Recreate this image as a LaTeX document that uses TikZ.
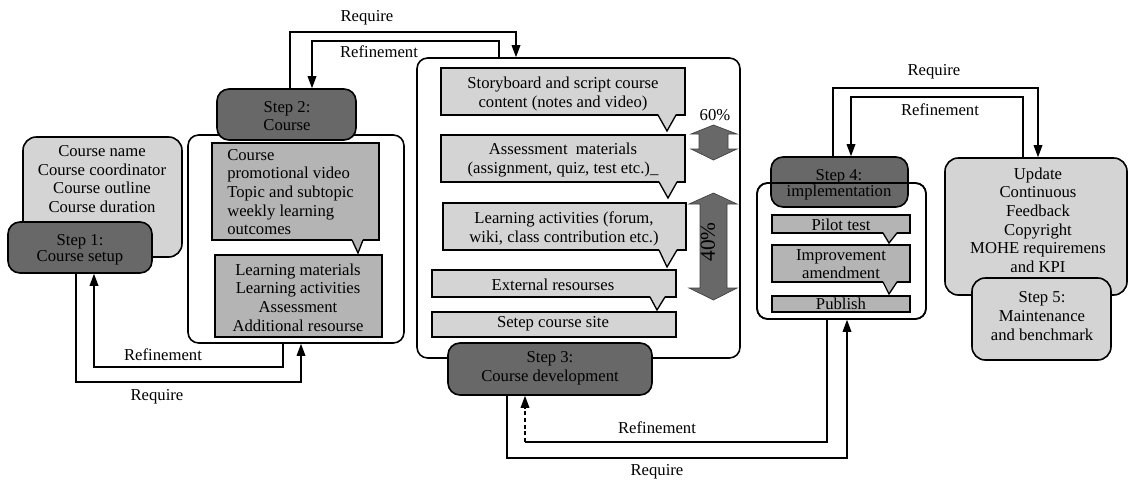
\documentclass[tikz,border=0pt]{standalone}
\usepackage{fontspec}
\setmainfont{Liberation Serif}
\newfontfamily\tnr{Liberation Serif}
\usetikzlibrary{arrows.meta,fit,calc}
\definecolor{dk}{RGB}{104,104,104}
\definecolor{md}{RGB}{180,180,180}
\definecolor{lt}{RGB}{212,212,212}
\begin{document}
\begin{tikzpicture}[x=0.75pt,y=-0.75pt,
  font=\tnr\fontsize{12.5}{14}\selectfont,
  stepbox/.style={draw, fill=dk, rounded corners=9pt, line width=1.2pt, inner sep=0pt},
  infobox/.style={draw, fill=lt, rounded corners=10pt, line width=1.2pt, inner sep=0pt},
  frame/.style={draw, rounded corners=8pt, line width=1.2pt, inner sep=0pt},
  callbox/.style={draw, line width=1pt, inner sep=0pt},
  txt/.style={inner sep=0pt, align=center},
  tight/.style={font=\tnr\fontsize{12.5}{12}\selectfont},
  link/.style={line width=0.9pt},
  arr/.style={line width=0.9pt, -{Triangle[length=9pt,width=6.5pt]}},
  dbl/.style={fill=dk, draw=black!75, line width=0.5pt}]
\useasboundingbox (0,0) rectangle (1129,483);

% ---------- Step 1 ----------
\node[infobox, fit={(23,137) (182,257)}] (s1i) {};
\node[txt] (s1it) at (102,179) {Course name\\Course coordinator\\Course outline\\Course duration};
\node[stepbox, fit={(8,222) (152,273)}] (s1) {};
\node[txt, tight] (s1t) at (80,250) {Step 1:\\Course setup};

% ---------- Step 2 ----------
\node[frame, fill=white, fit={(188,135) (404,343)}] (s2f) {};
\node[stepbox, fit={(217,89) (356,140)}] (s2) {};
\node[txt] (s2t) at (287,116) {Step 2:\\Course};
\node[callbox, fill=md, fit={(212,143) (379,240)}] (c21) {};
\fill[md] (352,239) -- (358,253) -- (363,239) -- cycle;
\draw[line width=1pt] (352,240) -- (358,253) -- (363,240);
\node[inner sep=0pt, align=left, anchor=west] (c21t) at (227,192) {Course\\promotional video\\Topic and subtopic\\weekly learning\\outcomes};
\node[callbox, fill=md, fit={(215,255) (382,337)}] (c22) {};
\node[txt] (c22t) at (298,297.5) {Learning materials\\Learning activities\\Assessment\\Additional resourse};

% ---------- Step 3 ----------
\node[frame, fill=white, fit={(417,58) (740,358)}] (s3f) {};
\node[callbox, fill=lt, fit={(441,68) (685,115)}] (c31) {};
\fill[lt] (658,114) -- (667,131) -- (676,114) -- cycle;
\draw[line width=1pt] (658,115) -- (667,131) -- (676,115);
\node[txt] (c31t) at (563,94) {Storyboard and script course\\content (notes and video)};
\node[callbox, fill=lt, fit={(441,135) (685,182)}] (c32) {};
\fill[lt] (659,181) -- (668,198) -- (677,181) -- cycle;
\draw[line width=1pt] (659,182) -- (668,198) -- (677,182);
\node[txt] (c32t) at (563,160) {Assessment\ \ materials\\(assignment, quiz, test etc.)\_};
\node[callbox, fill=lt, fit={(443,203) (686,250)}] (c33) {};
\fill[lt] (659,249) -- (667,267) -- (677,249) -- cycle;
\draw[line width=1pt] (659,250) -- (667,267) -- (677,250);
\node[txt] (c33t) at (564,229) {Learning activities (forum,\\wiki, class contribution etc.)};
\node[callbox, fill=lt, fit={(432,270) (676,297)}] (c34) {};
\fill[lt] (650,296) -- (657,310) -- (665,296) -- cycle;
\draw[line width=1pt] (650,297) -- (657,310) -- (665,297);
\node[txt] (c34t) at (553,285) {External resourses};
\node[callbox, fill=lt, fit={(432,312) (676,337)}] (c35) {};
\node[txt] (c35t) at (553,324) {Setep course site};
\node[stepbox, fit={(448,343) (652,395)}] (s3) {};
\node[txt] (s3t) at (550,368) {Step 3:\\Course development};

% percentage arrows
\filldraw[dbl] (713.5,125) -- (737,134) -- (728,134) -- (728,149) -- (737,149) -- (713.5,160)
  -- (691,149) -- (699,149) -- (699,134) -- (691,134) -- cycle;
\node[txt] (p60) at (715,115) {60\%};
\filldraw[dbl] (713.5,193) -- (737,204) -- (727,204) -- (727,288) -- (737,288) -- (713.5,300)
  -- (689,288) -- (700,288) -- (700,204) -- (689,204) -- cycle;
\node[txt, rotate=90, font=\tnr\fontsize{16}{18}\selectfont] (p40) at (708,242) {40\%};

% ---------- Step 4 ----------
\node[frame, fill=white, fit={(757,183) (926,319)}] (s4bg) {};
\node[stepbox, fit={(771,157) (908,207)}] (s4) {};
\node[txt, tight] (s4t) at (839,185) {Step 4:\\implementation};
\node[frame, fit={(757,183) (926,319)}] (s4f) {};
\node[callbox, fill=md, fit={(772,215) (910,233)}] (c41) {};
\fill[md] (883,232) -- (889,243) -- (897,232) -- cycle;
\draw[line width=1pt] (883,233) -- (889,243) -- (897,233);
\node[txt] (c41t) at (841,225) {Pilot test};
\node[callbox, fill=md, fit={(772,245) (910,282)}] (c42) {};
\fill[md] (883,281) -- (889,294) -- (897,281) -- cycle;
\draw[line width=1pt] (883,282) -- (889,294) -- (897,282);
\node[txt] (c42t) at (841,264) {Improvement\\amendment};
\node[callbox, fill=md, fit={(772,296) (910,312)}] (c43) {};
\node[txt] (c43t) at (841,304) {Publish};

% ---------- Step 5 ----------
\node[infobox, fit={(945,158) (1127,295)}] (s5i) {};
\node[txt] (s5it) at (1038,220) {Update\\Continuous\\Feedback\\Copyright\\MOHE requiremens\\and KPI};
\node[infobox, fit={(972,278) (1111,360)}] (s5) {};
\node[txt] (s5t) at (1042,316) {Step 5:\\Maintenance\\and benchmark};

% ---------- connectors ----------
\coordinate (a1) at (76,382);  \coordinate (a2) at (301,382);
\coordinate (b1) at (283,367); \coordinate (b2) at (94,367);
\coordinate (c1) at (290,32);  \coordinate (c2) at (516,32);
\coordinate (d1) at (499,41);  \coordinate (d2) at (312,41);
\coordinate (e1) at (507,458); \coordinate (e2) at (847,458);
\coordinate (f1) at (827,442); \coordinate (f2) at (525,442);
\coordinate (g1) at (833,88);  \coordinate (g2) at (1038,88);
\coordinate (h1) at (1023,97); \coordinate (h2) at (851,97);

\draw[arr] (s1.south -| a1) -- (a1) -- (a2) -- (s2f.south -| a2);
\draw[arr] (s2f.south -| b1) -- (b1) -- (b2) -- (s1.south -| b2);
\draw[arr] (s2.north -| c1) -- (c1) -- (c2) -- (s3f.north -| c2);
\draw[arr] (s3f.north -| d1) -- (d1) -- (d2) -- (s2.north -| d2);
\draw[arr] (s3.south -| e1) -- (e1) -- (e2) -- (s4f.south -| e2);
\draw[link] (s4f.south -| f1) -- (f1) -- (f2);
\draw[arr, densely dashed] (f2) -- (s3.south -| f2);
\draw[arr] (s4.north -| g1) -- (g1) -- (g2) -- (s5i.north -| g2);
\draw[arr] (s5i.north -| h1) -- (h1) -- (h2) -- (s4.north -| h2);

% labels
\node[txt] (l1) at (157,397) {Require};
\node[txt] (l2) at (163,355) {Refinement};
\node[txt] (l3) at (367,18) {Require};
\node[txt] (l4) at (379,52) {Refinement};
\node[txt] (l5) at (657,428) {Refinement};
\node[txt] (l6) at (657,472) {Require};
\node[txt] (l7) at (934,72) {Require};
\node[txt] (l8) at (940,110) {Refinement};
\end{tikzpicture}
\end{document}
